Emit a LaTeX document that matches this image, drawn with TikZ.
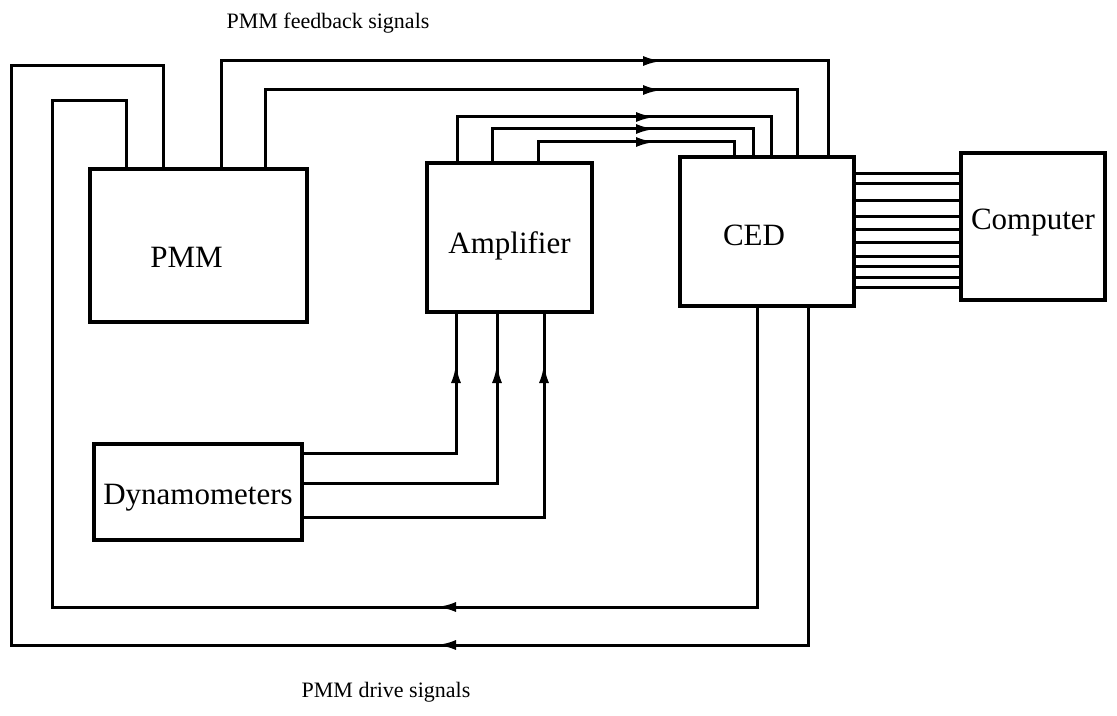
\documentclass[tikz,border=0pt]{standalone}
\usepackage{fontspec}
\setmainfont{Liberation Serif}
\usetikzlibrary{arrows.meta,decorations.markings}
\tikzset{
  box/.style={draw, line width=2pt, anchor=north west, inner sep=0pt, font=\fontsize{15.5}{18}\selectfont},
  boxlabel/.style={font=\fontsize{15.5}{18}\selectfont},
  conn/.style={line width=1.5pt},
  tipat/.style={postaction={decorate}, decoration={markings, mark=at position #1 with {\arrow{Latex[length=9.5pt,width=5pt]}}}},
  caption/.style={font=\fontsize{11}{13}\selectfont}
}
\begin{document}
\begin{tikzpicture}[x=0.5pt,y=-0.5pt]
\fill[white] (0,0) rectangle (1117,716);
\useasboundingbox (0,0) rectangle (1117,716);

% boxes
\node[box, minimum width=108.5pt, minimum height=76.5pt,
      label={[boxlabel, xshift=-6pt, yshift=-6pt]center:PMM}] (pmm) at (88,167) {};
\node[box, minimum width=82.5pt, minimum height=74.5pt,
      label={[boxlabel, yshift=-4pt]center:Amplifier}] (amp) at (425,161) {};
\node[box, minimum width=87pt, minimum height=74.5pt,
      label={[boxlabel, xshift=-6.5pt, yshift=-2pt]center:CED}] (ced) at (678,155) {};
\node[box, minimum width=72pt, minimum height=73.5pt,
      label={[boxlabel, yshift=2pt]center:Computer}] (comp) at (959,151) {};
\node[box, minimum width=104pt, minimum height=48pt,
      label={[boxlabel, yshift=-3pt]center:Dynamometers}] (dyn) at (92,442) {};

% captions
\node[caption] (fbcap) at (328,23) {PMM feedback signals};
\node[caption] (drcap) at (386,692) {PMM drive signals};

% drive signals (CED -> PMM)
\draw[conn, tipat=354pt] (808,0 |- ced.south) -- (808,645) -- (11,645) -- (11,66) -- (163,66) -- (163,0 |- pmm.north);
\draw[conn, tipat=309.5pt] (757,0 |- ced.south) -- (757,607) -- (52,607) -- (52,101) -- (126,101) -- (126,0 |- pmm.north);

% feedback signals (PMM -> CED)
\draw[conn, tipat=273.5pt] (221,0 |- pmm.north) -- (221,61) -- (828,61) -- (828,0 |- ced.north);
\draw[conn, tipat=237pt] (265,0 |- pmm.north) -- (265,90) -- (797,90) -- (797,0 |- ced.north);

% amplifier -> CED
\draw[conn, tipat=121pt] (457,0 |- amp.north) -- (457,117) -- (771,117) -- (771,0 |- ced.north);
\draw[conn, tipat=97.5pt] (492,0 |- amp.north) -- (492,129) -- (753,129) -- (753,0 |- ced.north);
\draw[conn, tipat=68pt] (538,0 |- amp.north) -- (538,142) -- (734,142) -- (734,0 |- ced.north);

% dynamometers -> amplifier
\draw[conn, tipat=120.5pt] (dyn.east |- 0,453) -| (456,0 |- amp.south);
\draw[conn, tipat=156pt] (dyn.east |- 0,483) -| (497,0 |- amp.south);
\draw[conn, tipat=196.5pt] (dyn.east |- 0,517) -| (544,0 |- amp.south);

% CED <-> Computer bus
\foreach \yy in {174,184,201,217,230,243,257,267,278,288}
  \draw[conn] (ced.east |- 0,\yy) -- (comp.west |- 0,\yy);
\end{tikzpicture}
\end{document}
